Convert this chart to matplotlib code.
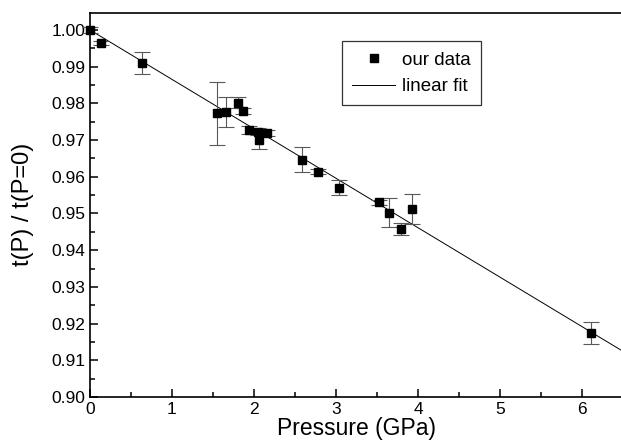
import numpy as np
import matplotlib
matplotlib.use("Agg")
import matplotlib.pyplot as plt
from matplotlib.ticker import MultipleLocator

# --- data ---
pressure = [0.00, 0.13, 0.64, 1.545, 1.655, 1.80, 1.87, 1.94, 2.05, 2.065,
            2.16, 2.59, 2.78, 3.04, 3.52, 3.65, 3.79, 3.93, 6.106]
ratio = [1.0000, 0.9965, 0.9909, 0.9773, 0.9776, 0.9802, 0.9779, 0.9727, 0.9723,
         0.9700, 0.9720, 0.9647, 0.9614, 0.9570, 0.9530, 0.9502, 0.9458, 0.9512, 0.9174]
ratio_err = [0.0008, 0.0006, 0.0030, 0.0086, 0.0040, 0.0014, 0.0008, 0.0010, 0.0010,
             0.0023, 0.0008, 0.0033, 0.0007, 0.0020, 0.0008, 0.0040, 0.0016, 0.0040, 0.0030]

fit_intercept = 1.0000
fit_slope = -0.01347

plt.rcParams['font.family'] = ['Liberation Sans', 'DejaVu Sans']

fig = plt.figure(figsize=(6.21, 4.43), dpi=100)
ax = fig.add_axes([90 / 621, 1 - 397 / 443, 533 / 621, (397 - 12.7) / 443])

ax.errorbar(pressure, ratio, yerr=ratio_err, fmt='none', ecolor='0.35',
            elinewidth=0.8, capsize=5.5, capthick=0.8, zorder=2, clip_on=False)
ax.plot(pressure, ratio, 's', color='black', markersize=6.2, label='our data',
        zorder=3, clip_on=False)

xfit = np.array([0, 6.5])
ax.plot(xfit, fit_intercept + fit_slope * xfit, color='black', lw=0.7,
        label='linear fit', zorder=1)

ax.set_xlim(0, 6.5)
ax.set_ylim(0.90, 1.0047)
ax.xaxis.set_major_locator(MultipleLocator(1))
ax.xaxis.set_minor_locator(MultipleLocator(0.5))
ax.yaxis.set_major_locator(MultipleLocator(0.01))
ax.yaxis.set_minor_locator(MultipleLocator(0.005))
ax.yaxis.set_major_formatter(plt.FormatStrFormatter('%.2f'))

ax.tick_params(which='both', direction='in', top=False, right=False, labelsize=12.5, width=1.1)
ax.tick_params(which='major', length=6)
ax.tick_params(which='minor', length=3.5)
for s in ax.spines.values():
    s.set_linewidth(1.2)

ax.set_xlabel('Pressure (GPa)', fontsize=16.5, labelpad=0)
ax.set_ylabel('t(P) / t(P=0)', fontsize=17, labelpad=12)

leg = ax.legend(loc='upper left', bbox_to_anchor=(0.473, 0.926), borderaxespad=0,
                fontsize=13.5, frameon=True, fancybox=False, edgecolor='black',
                handlelength=2.25, handletextpad=0.4, borderpad=0.55,
                labelspacing=0.5)
leg.get_frame().set_linewidth(0.9)

fig.savefig('out.png', dpi=100)
